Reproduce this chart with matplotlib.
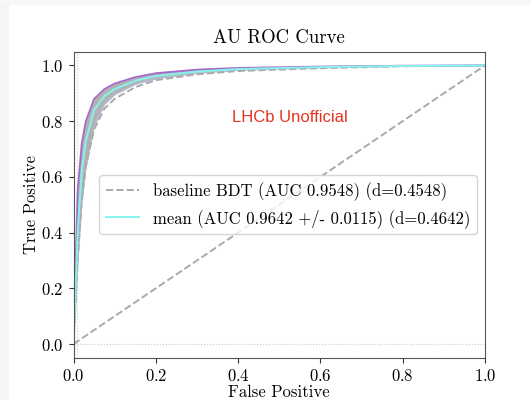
import numpy as np
import matplotlib
matplotlib.use("Agg")
import matplotlib.pyplot as plt
from matplotlib.patches import Rectangle

plt.rcParams['font.family'] = ['cmr10', 'DejaVu Serif']
plt.rcParams['axes.formatter.use_mathtext'] = True
plt.rcParams['mathtext.fontset'] = 'cm'

# false positive rate grid shared by the curves
fpr = [0.0, 0.01, 0.02, 0.03, 0.05, 0.075, 0.1, 0.15, 0.2, 0.3, 0.4, 0.6, 0.8, 1.0]

# mean ROC over folds (cyan)
tpr_mean = [0.0, 0.40, 0.62, 0.73, 0.84, 0.89, 0.915, 0.945, 0.962, 0.978, 0.987, 0.994, 0.998, 1.0]
# upper fold (purple) and lower fold (light blue)
tpr_upper = [0.0, 0.55, 0.72, 0.80, 0.88, 0.915, 0.935, 0.958, 0.972, 0.985, 0.991, 0.996, 0.999, 1.0]
tpr_lower = [0.0, 0.28, 0.50, 0.63, 0.78, 0.86, 0.895, 0.932, 0.952, 0.972, 0.983, 0.992, 0.997, 1.0]
# baseline BDT
tpr_bdt = [0.0, 0.30, 0.52, 0.64, 0.77, 0.845, 0.88, 0.922, 0.947, 0.968, 0.980, 0.990, 0.997, 1.0]

label_bdt = 'baseline BDT (AUC 0.9548) (d=0.4548)'
label_mean = 'mean (AUC 0.9642 +/- 0.0115) (d=0.4642)'

fig = plt.figure(figsize=(5.31, 4.0), dpi=100)
# light grey edge strips of the screenshot
fig.patches.append(Rectangle((0, 0), 8 / 531, 1, transform=fig.transFigure,
                             color='#f5f5f5', zorder=-10))
fig.patches.append(Rectangle((0, 1 - 4 / 400), 1, 4 / 400, transform=fig.transFigure,
                             color='#f7f7f7', zorder=-10))

ax = fig.add_axes([73.5 / 531, 1 - 358 / 400, (485 - 73.5) / 531, (358 - 51.5) / 400])

ax.axhline(0.0, color='#cccccc', ls=':', lw=0.8)
ax.axvline(0.008, color='#cccccc', ls=':', lw=0.8)
ax.plot([0, 1], [0, 1], ls='--', color='#aaaaaa', lw=1.4)

ax.fill_between(fpr, tpr_lower, tpr_upper, color='grey', alpha=0.6, lw=0)
ax.plot(fpr, tpr_lower, color='#aac8f0', lw=1.0, alpha=0.6)
ax.plot(fpr, tpr_upper, color='#9b59c6', lw=1.3, alpha=0.9)
ax.plot(fpr, tpr_bdt, ls='--', color='#aaaaaa', lw=1.4, label=label_bdt)
ax.plot(fpr, tpr_mean, color='#86f3ef', lw=1.4, label=label_mean)

ax.set_xlim(0, 1)
ax.set_ylim(-0.05, 1.05)
ax.set_xticks([0.0, 0.2, 0.4, 0.6, 0.8, 1.0])
ax.set_yticks([0.0, 0.2, 0.4, 0.6, 0.8, 1.0])
ax.tick_params(labelsize=12, color='#333333')
for s in ax.spines.values():
    s.set_color('#555555')

ax.set_title('AU ROC Curve', fontsize=13.5)
ax.set_xlabel('False Positive', fontsize=12, labelpad=1)
ax.set_ylabel('True Positive', fontsize=12, labelpad=1.5)

ax.text(0.386, 0.814, 'LHCb Unofficial', color='#e8321e', fontsize=12,
        family='Liberation Sans', va='center', ha='left')

ax.legend(loc='center right', fontsize=12, frameon=True)

fig.savefig('out.png', dpi=100)
